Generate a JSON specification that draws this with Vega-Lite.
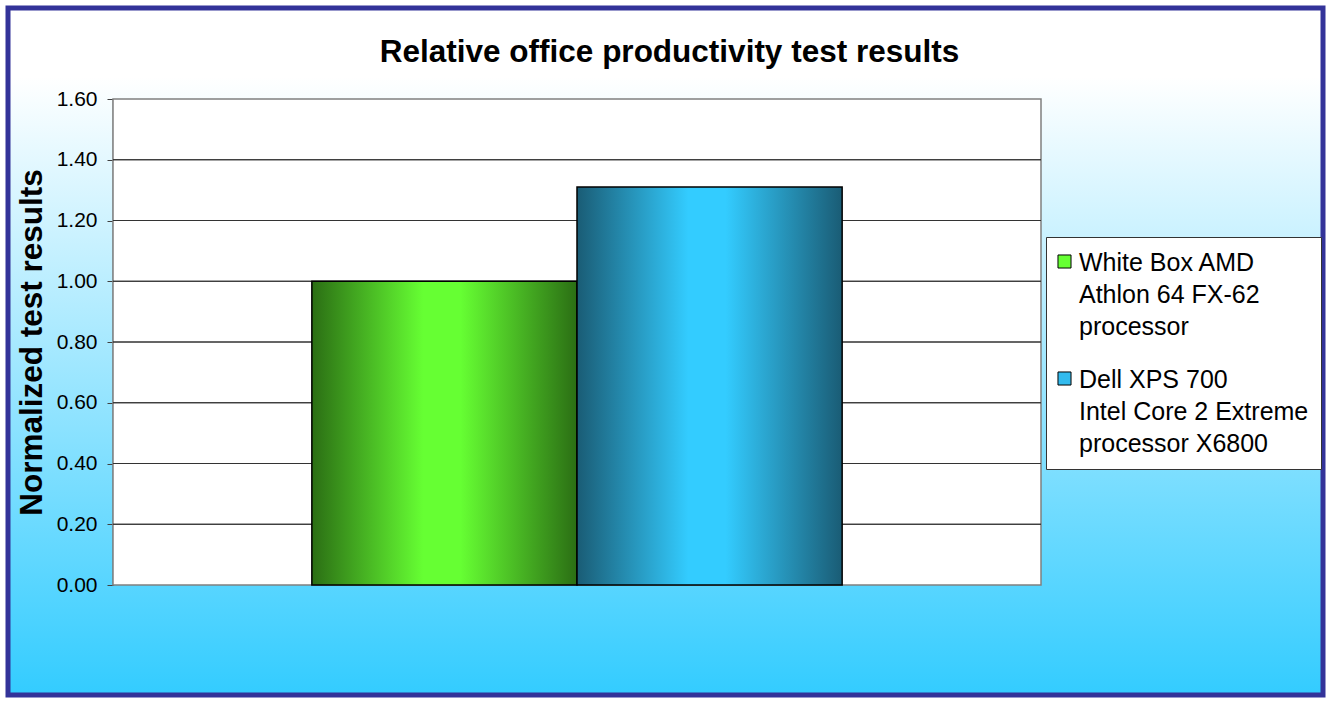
{
  "$schema": "https://vega.github.io/schema/vega-lite/v6.json",
  "width": 1315,
  "height": 687,
  "autosize": {"type": "none"},
  "padding": 8,
  "background": "white",
  "title": {
    "text": "Relative office productivity test results",
    "anchor": "middle",
    "font": "Liberation Sans",
    "fontSize": 31.5,
    "fontWeight": "bold",
    "color": "black",
    "offset": -60,
    "dx": 4
  },
  "datasets": {
    "results": [
      {"category": "Office productivity", "system": "White Box AMD Athlon 64 FX-62 processor", "value": 1.0},
      {"category": "Office productivity", "system": "Dell XPS 700 Intel Core 2 Extreme processor X6800", "value": 1.31}
    ],
    "gridlines": [
      {"level": 0.2}, {"level": 0.4}, {"level": 0.6}, {"level": 0.8},
      {"level": 1.0}, {"level": 1.2}, {"level": 1.4}
    ]
  },
  "layer": [
    {
      "data": {"name": "results"},
      "transform": [{"aggregate": [{"op": "count", "as": "n"}], "groupby": ["category"]}],
      "mark": {"type": "rect", "fill": "white", "stroke": "#808080", "strokeWidth": 1.5},
      "encoding": {
        "x": {"field": "category", "type": "nominal", "scale": {"range": [105, 1033], "paddingInner": 0, "paddingOuter": 0}, "axis": null},
        "y": {"datum": 0, "type": "quantitative", "scale": {"domain": [0, 1.6], "range": [577, 91], "nice": false, "zero": false},
          "axis": {
            "values": [0, 0.2, 0.4, 0.6, 0.8, 1.0, 1.2, 1.4, 1.6],
            "format": ".2f",
            "grid": false,
            "offset": -105,
            "domainColor": "#404040",
            "domainWidth": 1.5,
            "tickColor": "#404040",
            "tickSize": 6,
            "labelFont": "Liberation Sans",
            "labelFontSize": 21,
            "labelColor": "black",
            "labelPadding": 10,
            "title": "Normalized test results",
            "titleFont": "Liberation Sans",
            "titleFontSize": 31.5,
            "titleFontWeight": "bold",
            "titleColor": "black",
            "titleX": -65
          }
        },
        "y2": {"datum": 1.6}
      }
    },
    {
      "data": {"name": "gridlines"},
      "mark": {"type": "rect", "fill": null, "stroke": "#333333", "strokeWidth": 1},
      "encoding": {
        "x": {"datum": "Office productivity", "type": "nominal"},
        "y": {"field": "level", "type": "quantitative"},
        "y2": {"field": "level"}
      }
    },
    {
      "data": {"name": "results"},
      "transform": [{"filter": "datum.system == 'White Box AMD Athlon 64 FX-62 processor'"}],
      "mark": {
        "type": "bar",
        "stroke": "black",
        "strokeWidth": 1.5,
        "fill": {
          "gradient": "linear", "x1": 0, "y1": 0, "x2": 1, "y2": 0,
          "stops": [
            {"offset": 0, "color": "#2b6e14"},
            {"offset": 0.42, "color": "#66ff33"},
            {"offset": 0.56, "color": "#66ff33"},
            {"offset": 1, "color": "#2b6e14"}
          ]
        }
      },
      "encoding": {
        "x": {"field": "category", "type": "nominal"},
        "xOffset": {"field": "system", "type": "nominal", "scale": {"domain": ["White Box AMD Athlon 64 FX-62 processor", "Dell XPS 700 Intel Core 2 Extreme processor X6800"], "paddingInner": 0, "paddingOuter": 0.75}},
        "y": {"field": "value", "type": "quantitative"}
      }
    },
    {
      "data": {"name": "results"},
      "transform": [{"filter": "datum.system == 'Dell XPS 700 Intel Core 2 Extreme processor X6800'"}],
      "mark": {
        "type": "bar",
        "stroke": "black",
        "strokeWidth": 1.5,
        "fill": {
          "gradient": "linear", "x1": 0, "y1": 0, "x2": 1, "y2": 0,
          "stops": [
            {"offset": 0, "color": "#1a5c75"},
            {"offset": 0.42, "color": "#33ccff"},
            {"offset": 0.56, "color": "#33ccff"},
            {"offset": 1, "color": "#1a5c75"}
          ]
        }
      },
      "encoding": {
        "x": {"field": "category", "type": "nominal"},
        "xOffset": {"field": "system", "type": "nominal"},
        "y": {"field": "value", "type": "quantitative"}
      }
    },
    {
      "data": {"name": "results"},
      "mark": {"type": "square", "opacity": 0},
      "encoding": {
        "x": {"field": "category", "type": "nominal"},
        "y": {"field": "value", "type": "quantitative"},
        "color": {
          "field": "system",
          "type": "nominal",
          "scale": {"domain": ["White Box AMD Athlon 64 FX-62 processor", "Dell XPS 700 Intel Core 2 Extreme processor X6800"], "range": ["#66ff33", "#33bbee"]},
          "legend": {
            "orient": "none",
            "legendX": 1038,
            "legendY": 229,
            "title": null,
            "padding": 12,
            "fillColor": "white",
            "strokeColor": "#333333",
            "symbolType": "square",
            "symbolSize": 170,
            "symbolOffset": -6,
            "symbolStrokeColor": "black",
            "symbolStrokeWidth": 1,
            "symbolOpacity": 1,
            "labelFont": "Liberation Sans",
            "labelFontSize": 25,
            "labelColor": "black",
            "labelLimit": 400,
            "labelOffset": 2,
            "labelBaseline": "top",
            "rowPadding": 26,
            "labelExpr": "datum.label == 'White Box AMD Athlon 64 FX-62 processor' ? ['White Box AMD', 'Athlon 64 FX-62', 'processor'] : ['Dell XPS 700', 'Intel Core 2 Extreme', 'processor X6800']",
            "encode": {"labels": {"update": {"dy": {"value": -11}, "lineHeight": {"value": 32}}}}
          }
        }
      }
    }
  ],
  "resolve": {"scale": {"x": "shared", "y": "shared"}},
  "config": {
    "view": {
      "fill": {
        "gradient": "linear", "x1": 0, "y1": 0, "x2": 0, "y2": 1,
        "stops": [
          {"offset": 0, "color": "#ffffff"},
          {"offset": 0.1, "color": "#ffffff"},
          {"offset": 1, "color": "#33ccff"}
        ]
      },
      "stroke": "#333399",
      "strokeWidth": 5
    }
  }
}
